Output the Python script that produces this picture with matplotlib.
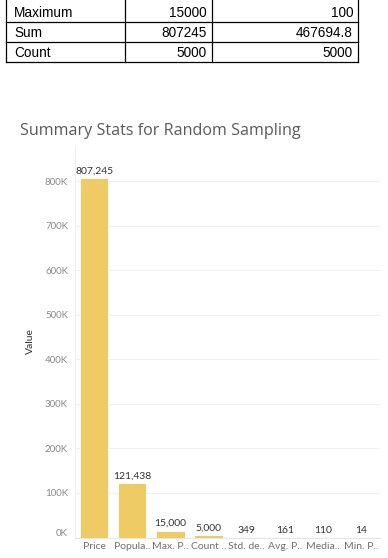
import numpy as np
import matplotlib
matplotlib.use('Agg')
from matplotlib import pyplot as plt
from matplotlib import transforms

# table rows (top of a summary table, cut off)
row_names = ["Maximum", "Sum", "Count"]
col1 = ["15000", "807245", "5000"]
col2 = ["100", "467694.8", "5000"]

# bar chart data
cats = ["Price", "Popula..", "Max. P..", "Count ..", "Std. de..", "Avg. P..", "Media..", "Min. P.."]
vals = [807245, 121438, 15000, 5000, 349, 161, 110, 14]
yticks = [0, 100000, 200000, 300000, 400000, 500000, 600000, 700000, 800000]
ytick_labels = ["0K", "100K", "200K", "300K", "400K", "500K", "600K", "700K", "800K"]

W, H = 388, 558
fig = plt.figure(figsize=(W/100, H/100), dpi=100)

# overlay in pixel coordinates for the table and title
ov = fig.add_axes([0, 0, 1, 1])
ov.set_xlim(0, W)
ov.set_ylim(H, 0)
ov.axis('off')

tfont = dict(family=['Liberation Sans', 'DejaVu Sans'], fontsize=9.8, color='black')
vx = [6, 124.5, 211.5, 358]
for x in vx:
	ov.plot([x, x], [0, 62], color='black', lw=0.9)
for y in [22, 42, 62]:
	ov.plot([vx[0], vx[-1]], [y, y], color='black', lw=0.9)
ycent = [13, 33, 53]
for i in range(3):
	ov.text(14, ycent[i], row_names[i], ha='left', va='center', **tfont)
	ov.text(207, ycent[i], col1[i], ha='right', va='center', **tfont)
	ov.text(353, ycent[i], col2[i], ha='right', va='center', **tfont)

ov.text(20, 131, "Summary Stats for Random Sampling", ha='left', va='center',
	family=['Open Sans', 'DejaVu Sans'], fontsize=11.6, color='#5a5a5a')

# chart axes
left, right = 75, 380
bottom, top = 537.5, 147
ax = fig.add_axes([left/W, (H-bottom)/H, (right-left)/W, (bottom-top)/H])
x = np.arange(len(cats))
ax.bar(x, vals, width=0.75, color='#EFCB66', edgecolor='white', linewidth=0.6, zorder=3)
ax.set_xlim(-0.5, len(cats)-0.5)
ax.set_ylim(0, 877500)
ax.set_yticks(yticks)
ax.set_yticklabels(ytick_labels)
ax.set_xticks(x)
ax.set_xticklabels(cats)
ax.tick_params(axis='y', length=0, pad=5, labelsize=7, labelcolor='#8a8a8a')
ax.tick_params(axis='x', length=0, pad=3, labelsize=7.5, labelcolor='#707070')
for lab in ax.get_xticklabels() + ax.get_yticklabels():
	lab.set_family(['Lato', 'DejaVu Sans'])
ax.yaxis.grid(True, color='#f0f0f0', lw=0.8, zorder=0)
for s in ['top', 'right']:
	ax.spines[s].set_visible(False)
ax.spines['left'].set_color('#eeeeee')
ax.spines['bottom'].set_color('#e6e6e6')
ax.spines['left'].set_linewidth(0.8)
ax.spines['bottom'].set_linewidth(0.8)

# Tableau lifts the bottom label a little
lab0 = ax.get_yticklabels()[0]
lab0.set_transform(lab0.get_transform() + transforms.ScaledTranslation(0, 5/100, fig.dpi_scale_trans))

for xi, v in zip(x, vals):
	ax.annotate(format(v, ','), (xi, v), xytext=(0, 2), textcoords='offset points',
		ha='center', va='bottom', fontsize=7.5, color='#333333', family=['Lato', 'DejaVu Sans'])

ax.set_ylabel("Value", fontsize=7.5, color='#333333', family=['Lato', 'DejaVu Sans'])
ax.yaxis.set_label_coords(-40/305, (bottom-341)/(bottom-top))

fig.savefig("out.png", dpi=100)
